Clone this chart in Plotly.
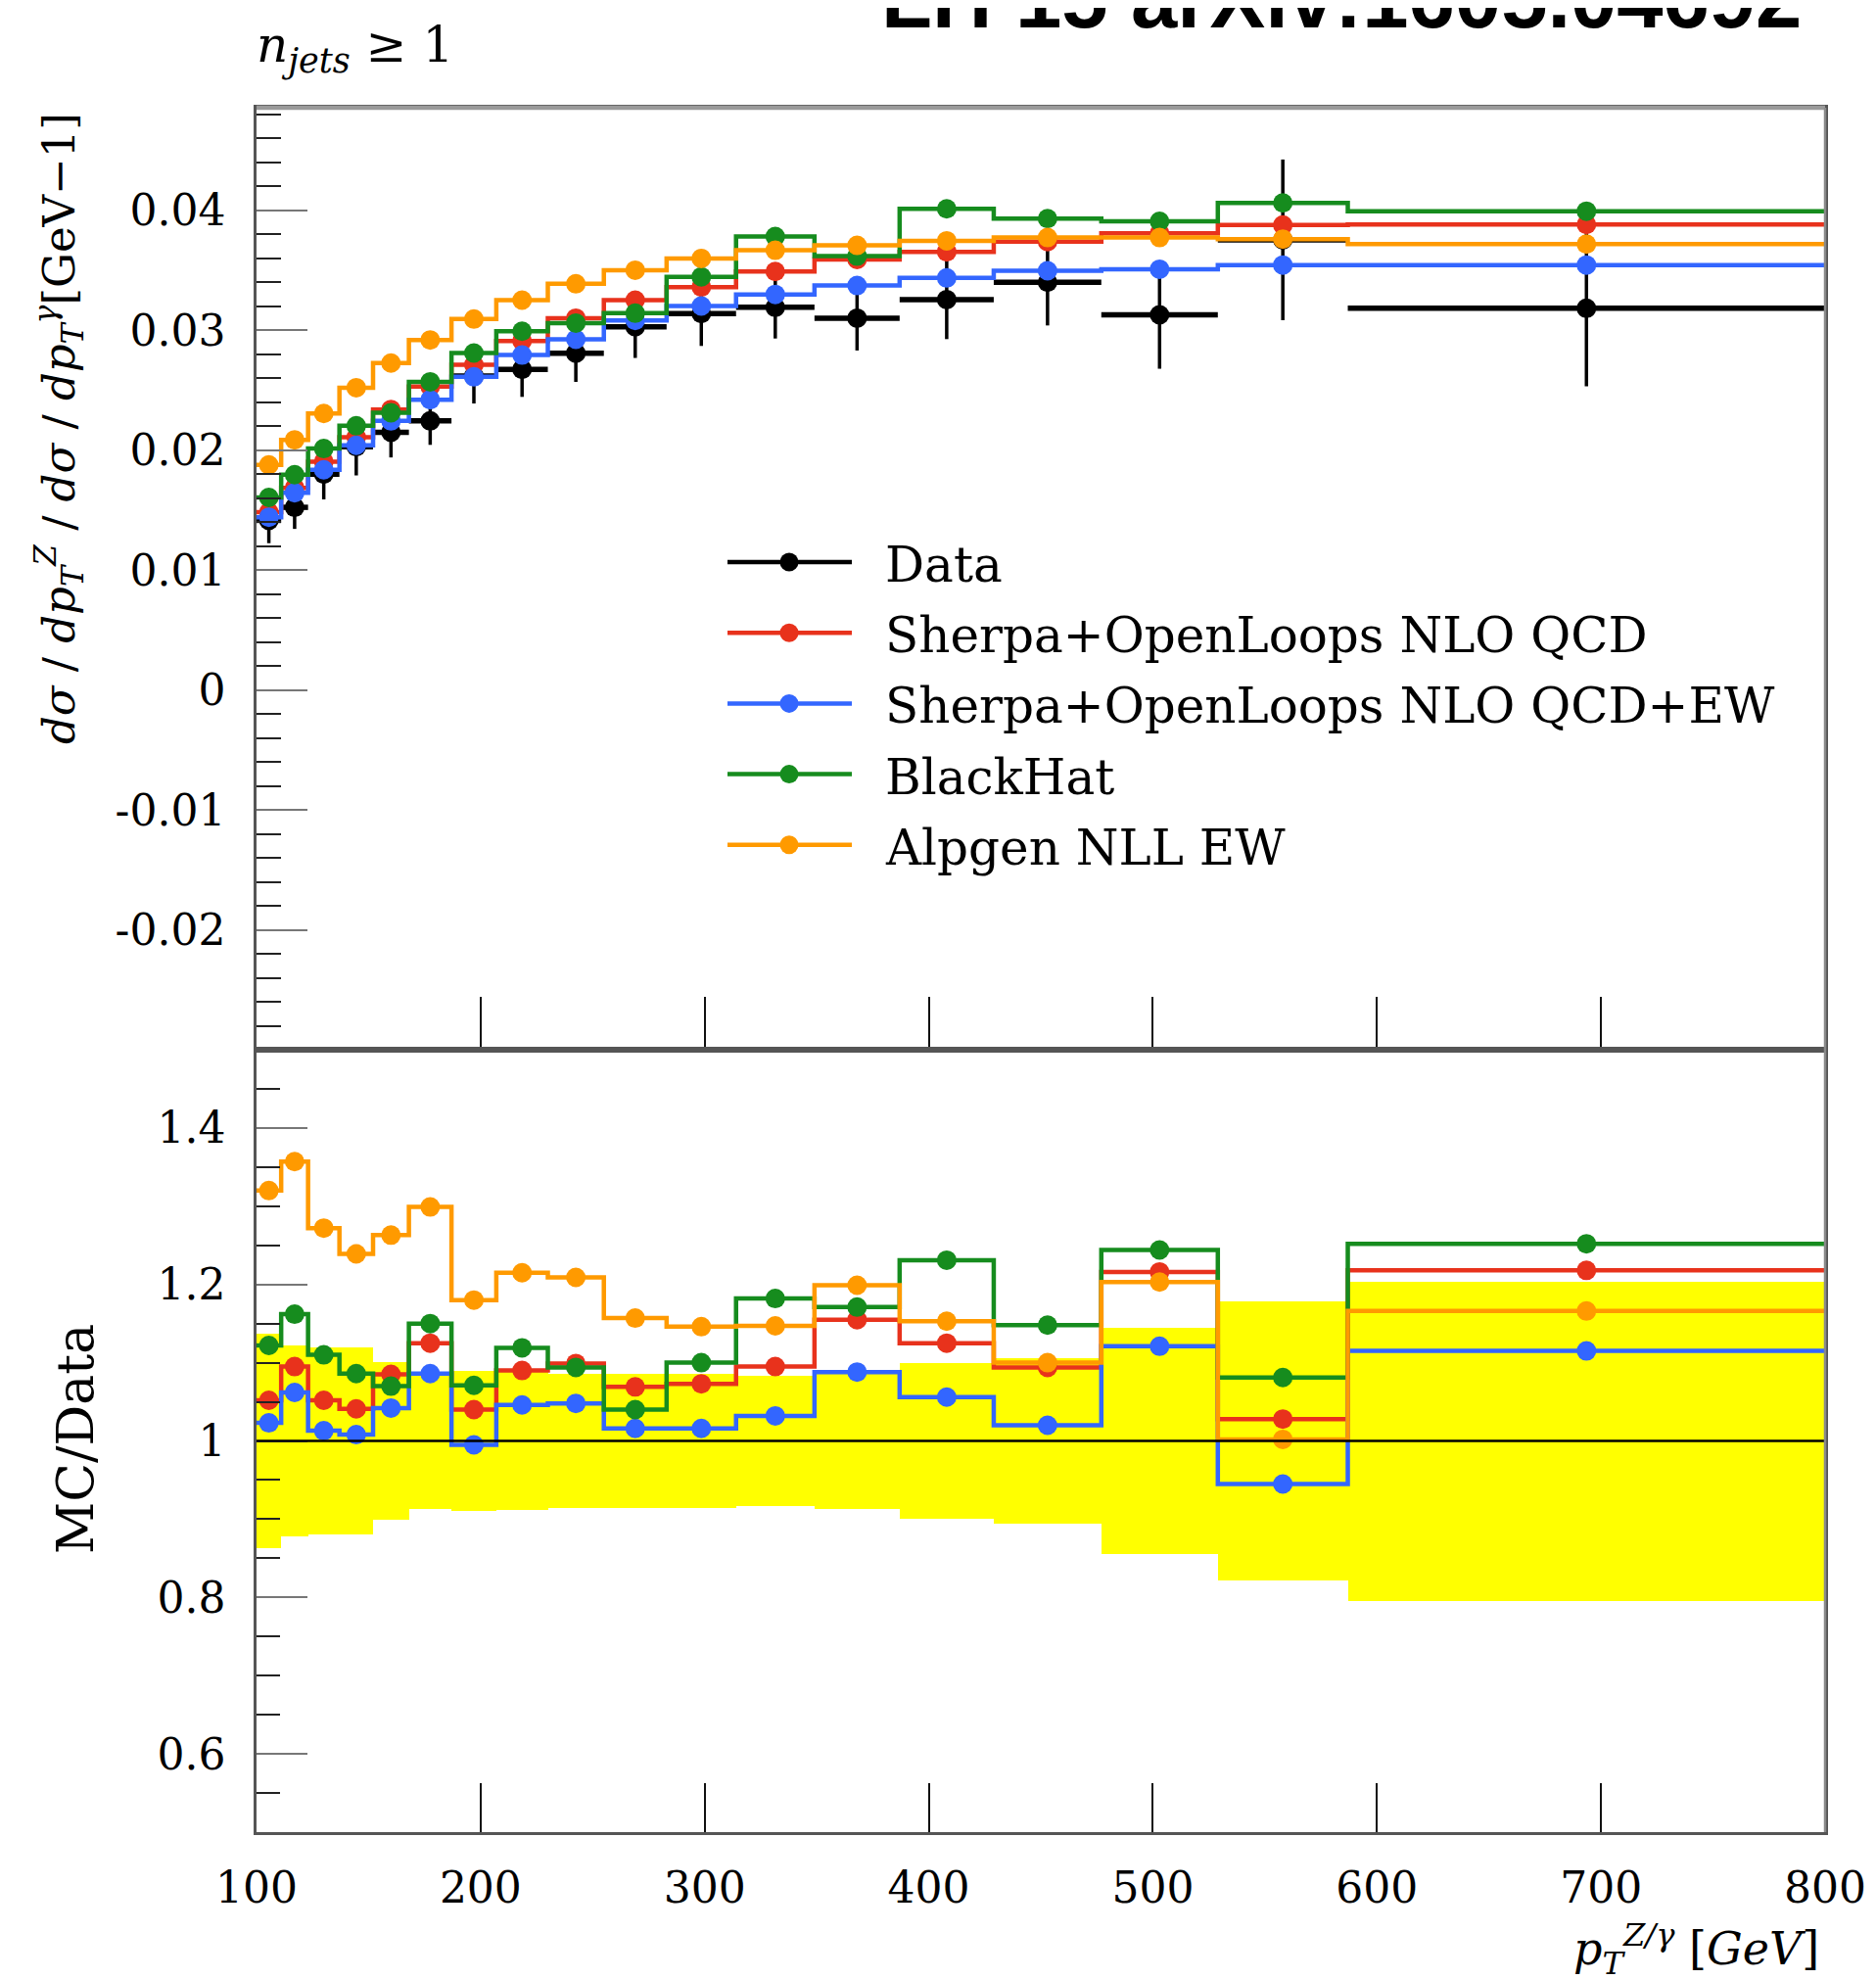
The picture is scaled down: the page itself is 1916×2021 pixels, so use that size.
import numpy as np
import plotly.graph_objects as go

W, H = 1916, 2021

# ---------------- data ----------------
pt_edges = [100, 111, 123, 137, 152, 168, 187, 207, 230, 255, 283, 314, 349, 387, 429, 477, 529, 587, 800]

data_vals = [0.01415, 0.01524, 0.01800, 0.02030, 0.02150, 0.02245, 0.02620, 0.02675, 0.02810,
             0.03030, 0.03140, 0.03192, 0.03102, 0.03257, 0.03401, 0.03130, 0.03755, 0.03184]
data_err = [0.0019, 0.0018, 0.0021, 0.0024, 0.0021, 0.0020, 0.0023, 0.0023, 0.0024,
            0.0026, 0.0027, 0.0026, 0.0027, 0.0033, 0.0036, 0.0045, 0.0067, 0.0065]

sherpa_qcd = [0.01483, 0.01687, 0.01905, 0.02109, 0.02340, 0.02531, 0.02713, 0.02912, 0.03102,
              0.03252, 0.03361, 0.03491, 0.03592, 0.03655, 0.03741, 0.03810, 0.03878, 0.03883]
sherpa_qcd_ew = [0.01442, 0.01646, 0.01837, 0.02041, 0.02245, 0.02422, 0.02612, 0.02794, 0.02925,
                 0.03083, 0.03203, 0.03300, 0.03374, 0.03437, 0.03497, 0.03510, 0.03545, 0.03545]
blackhat = [0.01606, 0.01796, 0.02014, 0.02204, 0.02313, 0.02571, 0.02811, 0.02993, 0.03061,
            0.03143, 0.03447, 0.03782, 0.03619, 0.04014, 0.03932, 0.03910, 0.04063, 0.03994]
alpgen = [0.01878, 0.02087, 0.02307, 0.02522, 0.02727, 0.02920, 0.03094, 0.03252, 0.03388,
          0.03502, 0.03600, 0.03668, 0.03709, 0.03747, 0.03774, 0.03774, 0.03761, 0.03720]

ratio_sherpa_qcd = [1.052, 1.095, 1.052, 1.041, 1.085, 1.125, 1.040, 1.090, 1.099,
                    1.069, 1.073, 1.095, 1.155, 1.125, 1.094, 1.216, 1.028, 1.218]
ratio_sherpa_qcd_ew = [1.023, 1.062, 1.013, 1.008, 1.042, 1.086, 0.995, 1.046, 1.048,
                       1.016, 1.016, 1.032, 1.088, 1.056, 1.020, 1.121, 0.945, 1.115]
ratio_blackhat = [1.122, 1.162, 1.110, 1.086, 1.070, 1.150, 1.071, 1.119, 1.094,
                  1.040, 1.100, 1.182, 1.171, 1.231, 1.148, 1.244, 1.081, 1.252]
ratio_alpgen = [1.320, 1.357, 1.272, 1.239, 1.263, 1.299, 1.180, 1.215, 1.209,
                1.157, 1.146, 1.147, 1.199, 1.153, 1.100, 1.203, 1.002, 1.166]

band_rel_err = [0.137, 0.122, 0.119, 0.119, 0.101, 0.087, 0.090, 0.088, 0.086,
                0.086, 0.086, 0.083, 0.087, 0.100, 0.106, 0.144, 0.178, 0.204]

series_names = ["Data", "Sherpa+OpenLoops NLO QCD", "Sherpa+OpenLoops NLO QCD+EW", "BlackHat", "Alpgen NLL EW"]
series_colors = ["#000000", "#e8321c", "#3366ff", "#168c1e", "#ff9a00"]

top_y_ticks = [-0.02, -0.01, 0, 0.01, 0.02, 0.03, 0.04]
top_y_ticktext = ["-0.02", "-0.01", "0", "0.01", "0.02", "0.03", "0.04"]
ratio_y_ticks = [0.6, 0.8, 1.0, 1.2, 1.4]
ratio_y_ticktext = ["0.6", "0.8", "1", "1.2", "1.4"]
x_ticks = [100, 200, 300, 400, 500, 600, 700, 800]

# ---------------- helpers ----------------
edges = np.array(pt_edges, dtype=float)
centers = 0.5 * (edges[:-1] + edges[1:])
half_w = 0.5 * (edges[1:] - edges[:-1])
widths = edges[1:] - edges[:-1]

def step_y(v):
    return list(v) + [v[-1]]

OFF = 8  # page body margin of the browser

def px_x(px):
    return (px - OFF) / W

def px_y(py):
    return (H - (py - OFF)) / H

FONT = "DejaVu Serif"
XD = [px_x(262), px_x(1864)]
TOP_D = [px_y(1072), px_y(110)]
BOT_D = [px_y(1871), px_y(1072)]

LW = 4.5
MS = 20

fig = go.Figure()

# ---------------- top panel ----------------
fig.add_trace(go.Scatter(
    x=centers, y=data_vals, mode="markers",
    marker=dict(color="black", size=MS),
    error_x=dict(type="data", array=half_w, color="black", thickness=5.5, width=0),
    error_y=dict(type="data", array=data_err, color="black", thickness=3.5, width=0),
    xaxis="x", yaxis="y", showlegend=False))

mc_top = [sherpa_qcd, sherpa_qcd_ew, blackhat, alpgen]
mc_ratio = [ratio_sherpa_qcd, ratio_sherpa_qcd_ew, ratio_blackhat, ratio_alpgen]
mc_colors = series_colors[1:]

for vals, col in zip(mc_top, mc_colors):
    fig.add_trace(go.Scatter(x=edges, y=step_y(vals), mode="lines", line=dict(color=col, width=LW, shape="hv"),
                             xaxis="x", yaxis="y", showlegend=False, hoverinfo="skip"))
    fig.add_trace(go.Scatter(x=centers, y=vals, mode="markers", marker=dict(color=col, size=MS),
                             xaxis="x", yaxis="y", showlegend=False))

# ---------------- ratio panel ----------------
band_err = np.array(band_rel_err)
fig.add_trace(go.Bar(x=centers, y=2 * band_err, base=1 - band_err, width=widths,
                     marker=dict(color="#ffff00", line=dict(width=0)),
                     xaxis="x2", yaxis="y2", showlegend=False, hoverinfo="skip"))

fig.add_shape(type="line", xref="x2", yref="y2", x0=pt_edges[0], x1=pt_edges[-1], y0=1, y1=1,
              line=dict(color="black", width=2.5), layer="above")

for vals, col in zip(mc_ratio, mc_colors):
    fig.add_trace(go.Scatter(x=edges, y=step_y(vals), mode="lines", line=dict(color=col, width=LW, shape="hv"),
                             xaxis="x2", yaxis="y2", showlegend=False, hoverinfo="skip"))
    fig.add_trace(go.Scatter(x=centers, y=vals, mode="markers", marker=dict(color=col, size=MS),
                             xaxis="x2", yaxis="y2", showlegend=False))

# ---------------- axes ----------------
frame = dict(showline=True, linecolor="#555555", linewidth=2.5, mirror=True, showgrid=False, zeroline=False,
             automargin=False)
tickfont = dict(family=FONT, size=44, color="black")

fig.update_layout(
    xaxis=dict(domain=XD, range=[100, 800], anchor="y", tickmode="array", tickvals=x_ticks[1:-1],
               ticks="inside", ticklen=54, tickwidth=2, tickcolor="#111", showticklabels=False, **frame),
    xaxis2=dict(domain=XD, range=[100, 800], anchor="y2", tickmode="array", tickvals=x_ticks,
                ticktext=[str(t) for t in x_ticks], ticks="inside", ticklen=50, tickwidth=2, tickcolor="#111",
                tickfont=tickfont, ticklabelstandoff=16, **frame),
    yaxis=dict(domain=TOP_D, range=[-0.03, 0.04857], anchor="x", tickmode="array", tickvals=top_y_ticks,
               ticktext=top_y_ticktext, ticks="inside", ticklen=52, tickwidth=2, tickcolor="#777",
               tickfont=tickfont, ticklabelstandoff=20,
               minor=dict(tickmode="array",
                          tickvals=[v for v in np.round(np.arange(-0.03, 0.0486, 0.002), 4)
                                    if abs(v * 100 - round(v * 100)) > 1e-6],
                          ticks="inside", ticklen=25, tickwidth=2, tickcolor="#222"),
               **frame),
    yaxis2=dict(domain=BOT_D, range=[0.5, 1.5], anchor="x2", tickmode="array", tickvals=ratio_y_ticks,
                ticktext=ratio_y_ticktext, ticks="inside", ticklen=52, tickwidth=2, tickcolor="#777",
                tickfont=tickfont, ticklabelstandoff=20,
                minor=dict(tickmode="array",
                           tickvals=[v for v in np.round(np.arange(0.55, 1.5, 0.05), 3)
                                     if abs(v * 5 - round(v * 5)) > 1e-6],
                           ticks="inside", ticklen=24, tickwidth=2, tickcolor="#222"),
                **frame),
    width=W, height=H, autosize=False,
    margin=dict(l=0, r=0, t=0, b=0, pad=0),
    plot_bgcolor="white", paper_bgcolor="white",
    showlegend=False, bargap=0,
)

# gray top / right frame edges as in the reference
fig.add_shape(type="line", xref="paper", yref="paper", x0=XD[0], x1=XD[1], y0=TOP_D[1], y1=TOP_D[1],
              line=dict(color="#9a9a9a", width=4.5), layer="above")
fig.add_shape(type="line", xref="paper", yref="paper", x0=XD[1], x1=XD[1], y0=BOT_D[0], y1=TOP_D[1],
              line=dict(color="#8a8a8a", width=2.5), layer="above")

# ---------------- legend (manual) ----------------
leg_y0, leg_dy = 574, 72.2
for i, (name, col) in enumerate(zip(series_names, series_colors)):
    yc = leg_y0 + i * leg_dy
    fig.add_shape(type="line", xref="paper", yref="paper", x0=px_x(743), x1=px_x(870),
                  y0=px_y(yc), y1=px_y(yc), line=dict(color=col, width=LW))
    r = 9.5
    fig.add_shape(type="circle", xref="paper", yref="paper", x0=px_x(806 - r), x1=px_x(806 + r),
                  y0=px_y(yc + r), y1=px_y(yc - r), fillcolor=col, line=dict(color=col, width=0))
    fig.add_annotation(text=name, xref="paper", yref="paper", x=px_x(902), y=px_y(yc + 3),
                       xanchor="left", yanchor="middle", showarrow=False,
                       font=dict(family=FONT, size=50, color="black"))

# ---------------- texts ----------------
fig.add_annotation(text="<i>n</i><sub><i>jets</i></sub> ≥ 1", xref="paper", yref="paper",
                   x=px_x(260), y=px_y(50), xanchor="left", yanchor="middle", showarrow=False,
                   font=dict(family=FONT, size=50, color="black"))

fig.add_annotation(text="<b>LH 15 arXiv:1605.04692</b>", xref="paper", yref="paper",
                   x=px_x(1842), y=px_y(-1), xanchor="right", yanchor="middle", showarrow=False,
                   font=dict(family="Liberation Sans", size=85, color="black"))

fig.add_annotation(text="<i>dσ</i> / <i>dp</i><sub><i>T</i></sub><sup><i>Z</i></sup> / <i>dσ</i> / "
                        "<i>dp</i><sub><i>T</i></sub><sup><i>γ</i></sup>[GeV−1]",
                   xref="paper", yref="paper", x=px_x(60), y=px_y(438), textangle=-90,
                   xanchor="center", yanchor="middle", showarrow=False,
                   font=dict(family=FONT, size=45, color="black"))

fig.add_annotation(text="MC/Data", xref="paper", yref="paper", x=px_x(77), y=px_y(1470), textangle=-90,
                   xanchor="center", yanchor="middle", showarrow=False,
                   font=dict(family=FONT, size=52, color="black"))

fig.add_annotation(text="<i>p</i><sub><i>T</i></sub><sup><i>Z/γ</i></sup> [<i>GeV</i>]",
                   xref="paper", yref="paper", x=px_x(1860), y=px_y(1990), xanchor="right", yanchor="middle",
                   showarrow=False, font=dict(family=FONT, size=46, color="black"))

fig.write_html("out.html")
